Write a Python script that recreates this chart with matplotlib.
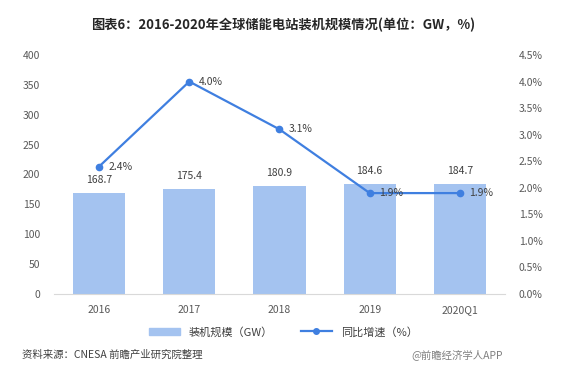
import matplotlib
matplotlib.use("Agg")
import matplotlib.pyplot as plt
from matplotlib.ticker import FuncFormatter
from matplotlib.lines import Line2D
from matplotlib.patches import Patch

plt.rcParams['font.family'] = ['Noto Sans CJK SC', 'DejaVu Sans']

categories = ["2016", "2017", "2018", "2019", "2020Q1"]
capacity = [168.7, 175.4, 180.9, 184.6, 184.7]
growth = [2.4, 4.0, 3.1, 1.9, 1.9]
left_ticks = [0, 50, 100, 150, 200, 250, 300, 350, 400]
right_ticks = [0, 0.5, 1.0, 1.5, 2.0, 2.5, 3.0, 3.5, 4.0, 4.5]

bar_color = "#a4c3f0"
line_color = "#3f7fe0"
text_color = "#595959"

fig = plt.figure(figsize=(5.65, 3.83), dpi=100)
ax = fig.add_axes([54/565, 1-294/383, 451/565, 239/383])
ax2 = ax.twinx()

x = list(range(len(categories)))
ax.bar(x, capacity, width=0.58, color=bar_color, zorder=2)
for xi, v in zip(x, capacity):
    ax.text(xi, v + 13, f"{v}", ha="center", va="bottom", fontsize=7.5, color="#404040")

ax2.plot(x, growth, color=line_color, lw=1.6, marker="o", ms=4.5, zorder=3)
for xi, v in zip(x, growth):
    ax2.text(xi + 0.1, v, f"{v}%", ha="left", va="center", fontsize=7.5, color="#404040")

ax.set_xlim(-0.5, len(categories) - 0.5)
ax.set_ylim(0, 400)
ax2.set_ylim(0, 4.5)
ax.set_yticks(left_ticks)
ax2.set_yticks(right_ticks)
ax2.yaxis.set_major_formatter(FuncFormatter(lambda v, p: f"{v:.1f}%"))
ax.set_xticks(x)
ax.set_xticklabels(categories)

for a in (ax, ax2):
    for s in a.spines.values():
        s.set_visible(False)
    a.tick_params(length=0, labelsize=7.5, colors=text_color)
ax.spines['bottom'].set_visible(True)
ax.spines['bottom'].set_color("#d9d9d9")
ax.tick_params(axis='y', pad=10)
ax2.tick_params(axis='y', pad=10)
ax.tick_params(axis='x', pad=8)

fig.text(283/565, 1-25/383, "图表6：2016-2020年全球储能电站装机规模情况(单位：GW，%)",
         ha="center", va="center", fontsize=9.5, fontweight="bold", color="#262626")

handles = [Patch(color=bar_color), Line2D([0], [0], color=line_color, lw=1.6, marker="o", ms=4)]
fig.legend(handles, ["装机规模（GW）", "同比增速（%）"], loc="center",
           bbox_to_anchor=(283/565, 1-332/383), ncol=2, frameon=False,
           fontsize=8, handlelength=2.8, columnspacing=2.5, labelcolor="#404040")

fig.text(22/565, 1-355/383, "资料来源：CNESA 前瞻产业研究院整理", ha="left", va="center",
         fontsize=7.5, color="#404040")
fig.text(503/565, 1-355/383, "@前瞻经济学人APP", ha="right", va="center",
         fontsize=7.5, color="#808080")

fig.savefig("out.png", dpi=100)
